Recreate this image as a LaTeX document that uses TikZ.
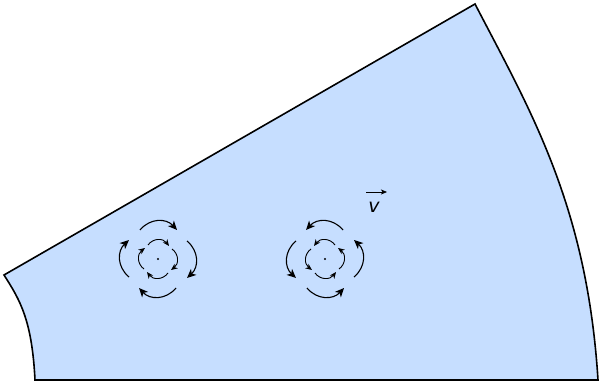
\documentclass[tikz,border=0pt]{standalone}
\usepackage{fontspec}
\newfontfamily\vfont{DejaVu Sans}
\usetikzlibrary{arrows.meta}
\definecolor{fluid}{RGB}{198,222,255}
\tikzset{
  region/.style={fill=fluid,draw=black,line width=1.6pt,line join=miter},
  outerarc/.style={line width=1.1pt,-{Stealth[length=9pt,width=8pt,inset=2.5pt]}},
  innerarc/.style={line width=0.9pt,-{Stealth[length=6.5pt,width=5.5pt,inset=2pt]}},
  vlabel/.style={inner sep=0pt,font=\vfont\itshape\fontsize{19}{20}\selectfont}
}
\begin{document}
\begin{tikzpicture}[x=1pt,y=1pt]
\useasboundingbox (0,0) rectangle (599,385);
% region
\coordinate (A) at (4,110);
\coordinate (B) at (475,381);
\coordinate (C) at (598,5);
\coordinate (D) at (35,5);
\draw[region] (A) -- (B) .. controls (530,275) and (587,180) .. (C) -- (D)
  .. controls (32,65) and (20,85) .. cycle;
% vortex 1 (clockwise)
\coordinate (v1) at (158,126);
\fill (v1) circle (1.1);
\foreach \r in {0,-90,-180,-270}{
  \begin{scope}[shift={(v1)},rotate=\r]
    \draw[outerarc] (-18,29) .. controls (-8,41) and (8,41) .. (19,29);
    \draw[innerarc] (-10,14) .. controls (-5,21) and (5,21) .. (11,13);
  \end{scope}
}
% vortex 2 (counter-clockwise)
\coordinate (v2) at (325,126);
\fill (v2) circle (1.1);
\foreach \r in {0,-90,-180,-270}{
  \begin{scope}[shift={(v2)},xscale=-1,rotate=\r]
    \draw[outerarc] (-18,29) .. controls (-8,41) and (8,41) .. (19,29);
    \draw[innerarc] (-10,14) .. controls (-5,21) and (5,21) .. (11,13);
  \end{scope}
}
% velocity label
\node[vlabel] (vel) at (374,178) {v};
\coordinate (va) at (366,193);
\coordinate (vb) at (387,193);
\draw[line width=0.7pt,-{Stealth[length=6pt,width=5pt,inset=1.5pt]}] (va) -- (vb);
\end{tikzpicture}
\end{document}
